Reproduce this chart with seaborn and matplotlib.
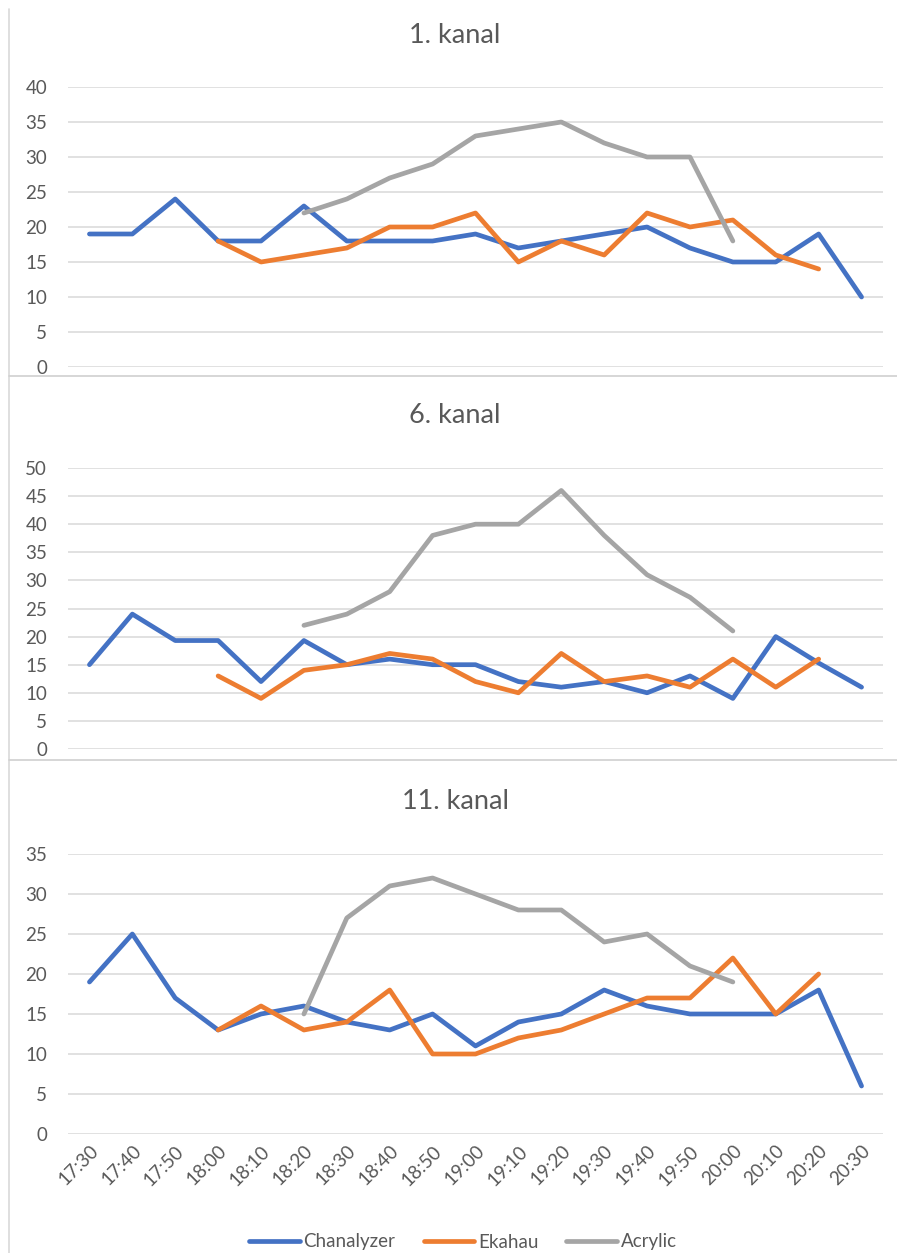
import matplotlib
matplotlib.use("Agg")
import matplotlib.pyplot as plt
from matplotlib.lines import Line2D
import numpy as np
import pandas as pd
import seaborn as sns

nan = np.nan

times = ["17:30", "17:40", "17:50", "18:00", "18:10", "18:20", "18:30", "18:40", "18:50", "19:00",
         "19:10", "19:20", "19:30", "19:40", "19:50", "20:00", "20:10", "20:20", "20:30"]

# 1. kanal
ch1_chanalyzer = [19, 19, 24, 18, 18, 23, 18, 18, 18, 19, 17, 18, 19, 20, 17, 15, 15, 19, 10]
ch1_ekahau = [nan, nan, nan, 18, 15, 16, 17, 20, 20, 22, 15, 18, 16, 22, 20, 21, 16, 14, nan]
ch1_acrylic = [nan, nan, nan, nan, nan, 22, 24, 27, 29, 33, 34, 35, 32, 30, 30, 18, nan, nan, nan]

# 6. kanal
ch6_chanalyzer = [15, 24, 19.3, 19.3, 12, 19.3, 15, 16, 15, 15, 12, 11, 12, 10, 13, 9, 20, 15.3, 11]
ch6_ekahau = [nan, nan, nan, 13, 9, 14, 15, 17, 16, 12, 10, 17, 12, 13, 11, 16, 11, 16, nan]
ch6_acrylic = [nan, nan, nan, nan, nan, 22, 24, 28, 38, 40, 40, 46, 38, 31, 27, 21, nan, nan, nan]

# 11. kanal
ch11_chanalyzer = [19, 25, 17, 13, 15, 16, 14, 13, 15, 11, 14, 15, 18, 16, 15, 15, 15, 18, 6]
ch11_ekahau = [nan, nan, nan, 13, 16, 13, 14, 18, 10, 10, 12, 13, 15, 17, 17, 22, 15, 20, nan]
ch11_acrylic = [nan, nan, nan, nan, nan, 15, 27, 31, 32, 30, 28, 28, 24, 25, 21, 19, nan, nan, nan]

series_names = ["Chanalyzer", "Ekahau", "Acrylic"]
colors = {"Chanalyzer": "#4472C4", "Ekahau": "#ED7D31", "Acrylic": "#A5A5A5"}

panels = [
    ("1. kanal", [ch1_chanalyzer, ch1_ekahau, ch1_acrylic], 40, 0.972),
    ("6. kanal", [ch6_chanalyzer, ch6_ekahau, ch6_acrylic], 50, 0.668),
    ("11. kanal", [ch11_chanalyzer, ch11_ekahau, ch11_acrylic], 35, 0.360),
]

sns.set_theme(style="white")
plt.rcParams["font.family"] = ["Lato", "DejaVu Sans"]

W, H = 897, 1253
fig = plt.figure(figsize=(W / 100, H / 100), dpi=100)

# axes boxes in pixels: (top y, bottom y)
boxes = [(87, 367), (468, 749), (854, 1134)]
left_px, right_px = 68, 883
txt = "#595959"

for k, ((title, vals, ymax, ty), (top, bot)) in enumerate(zip(panels, boxes)):
    ax = fig.add_axes([left_px / W, 1 - bot / H, (right_px - left_px) / W, (bot - top) / H])
    df = pd.DataFrame({
        "idx": np.tile(np.arange(len(times)), 3),
        "value": np.concatenate([np.array(v, dtype=float) for v in vals]),
        "series": np.repeat(series_names, len(times)),
    }).dropna()
    sns.lineplot(data=df, x="idx", y="value", hue="series", hue_order=series_names,
                 palette=colors, linewidth=3.4, legend=False, ax=ax, sort=False)
    ax.set_xlim(-0.5, len(times) - 0.5)
    ax.set_ylim(0, ymax)
    ax.set_yticks(np.arange(0, ymax + 1, 5))
    ax.yaxis.grid(True, color="#D9D9D9", linewidth=1.1)
    ax.set_axisbelow(True)
    for s in ax.spines.values():
        s.set_visible(False)
    ax.set_xlabel("")
    ax.set_ylabel("")
    ax.tick_params(axis="y", length=0, pad=15, labelsize=13.5, labelcolor=txt)
    ax.set_xticks(np.arange(len(times)))
    if k == 2:
        ax.set_xticklabels(times, rotation=45, ha="right", va="top",
                           rotation_mode="anchor", fontsize=13.5, color=txt)
        ax.tick_params(axis="x", length=0, pad=6)
    else:
        ax.set_xticklabels([])
        ax.tick_params(axis="x", length=0)
    fig.text(455 / W, ty, title, ha="center", va="center", fontsize=19.5, color=txt)

# chart frame lines
fig.add_artist(Line2D([9 / W, 9 / W], [0, 1 - 9 / H], color="#D9D9D9", linewidth=1.2))
for yy in (375.5, 760):
    fig.add_artist(Line2D([9 / W, 1], [1 - yy / H, 1 - yy / H], color="#D0D0D0", linewidth=1.2))

handles = [Line2D([], [], color=colors[n], linewidth=3.4) for n in series_names]
fig.legend(handles, series_names, loc="center", bbox_to_anchor=(463 / W, 1 - 1242 / H),
           ncol=3, frameon=False, fontsize=13.5, handlelength=2.7, columnspacing=1.5,
           handletextpad=0.2, labelcolor=txt)

fig.savefig("out.png", dpi=100, facecolor="white")
